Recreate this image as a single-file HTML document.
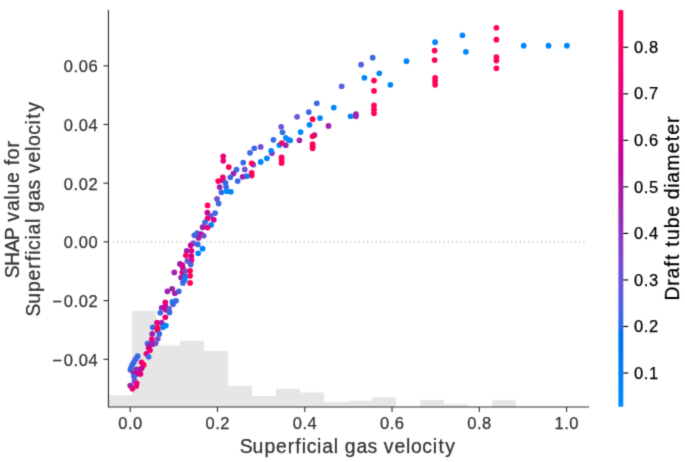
<!DOCTYPE html><html><head><meta charset="utf-8"><title>SHAP dependence plot</title><style>
html,body{margin:0;padding:0;background:#fff;}body{width:685px;height:462px;overflow:hidden;}svg{display:block;}
text{font-family:"Liberation Sans",sans-serif;fill:#333333;stroke:#333333;stroke-width:0.25px;}
</style></head><body>
<svg width="685" height="462" viewBox="0 0 685 462">
<defs><linearGradient id="cb" x1="0" y1="1" x2="0" y2="0">
<stop offset="0.000" stop-color="#008bfb"/>
<stop offset="0.030" stop-color="#0086fa"/>
<stop offset="0.061" stop-color="#0082f8"/>
<stop offset="0.091" stop-color="#007ef6"/>
<stop offset="0.121" stop-color="#0079f3"/>
<stop offset="0.152" stop-color="#0074f0"/>
<stop offset="0.182" stop-color="#006fed"/>
<stop offset="0.212" stop-color="#306ae9"/>
<stop offset="0.242" stop-color="#4664e4"/>
<stop offset="0.273" stop-color="#575fdf"/>
<stop offset="0.303" stop-color="#6459da"/>
<stop offset="0.333" stop-color="#6f52d4"/>
<stop offset="0.364" stop-color="#794cce"/>
<stop offset="0.394" stop-color="#8244c7"/>
<stop offset="0.424" stop-color="#8a3cc0"/>
<stop offset="0.455" stop-color="#9233b9"/>
<stop offset="0.485" stop-color="#9829b1"/>
<stop offset="0.515" stop-color="#a01fab"/>
<stop offset="0.545" stop-color="#aa17a7"/>
<stop offset="0.576" stop-color="#b30aa3"/>
<stop offset="0.606" stop-color="#bc009f"/>
<stop offset="0.636" stop-color="#c5009a"/>
<stop offset="0.667" stop-color="#cd0095"/>
<stop offset="0.697" stop-color="#d40090"/>
<stop offset="0.727" stop-color="#db008a"/>
<stop offset="0.758" stop-color="#e10084"/>
<stop offset="0.788" stop-color="#e7007e"/>
<stop offset="0.818" stop-color="#ec0078"/>
<stop offset="0.848" stop-color="#f10072"/>
<stop offset="0.879" stop-color="#f6006c"/>
<stop offset="0.909" stop-color="#fa0065"/>
<stop offset="0.939" stop-color="#fd005f"/>
<stop offset="0.970" stop-color="#ff0058"/>
<stop offset="1.000" stop-color="#ff0051"/>
<stop offset="1" stop-color="#ff0051"/>
</linearGradient>
<filter id="bl" x="0" y="0" width="685" height="462" filterUnits="userSpaceOnUse" color-interpolation-filters="sRGB"><feConvolveMatrix order="3" kernelMatrix="0.0192 0.1001 0.0192 0.1001 0.5228 0.1001 0.0192 0.1001 0.0192" edgeMode="duplicate"/></filter>
</defs><g filter="url(#bl)"><rect x="0" y="0" width="685" height="462" fill="#ffffff"/>
<path d="M108.15 406.95 V395.20 H132.15 V310.80 H156.15 V345.50 H180.15 V340.70 H204.15 V350.90 H228.15 V386.00 H252.15 V395.90 H276.15 V388.80 H300.15 V392.40 H324.15 V401.90 H348.15 V400.80 H372.15 V397.30 H396.15 V406.95 H420.15 V399.90 H444.15 V404.30 H468.15 V406.95 H492.15 V400.30 H516.15 V406.95 H540.15 V406.95 H564.15 V406.95 H588.15 V406.95 Z" fill="#e6e6e6"/>
<line x1="112.85" y1="241.90" x2="587.20" y2="241.90" stroke="#888888" stroke-width="0.9" stroke-dasharray="0.9 3.34"/>
<circle cx="435.10" cy="42.15" r="2.85" fill="#0086fa"/>
<circle cx="434.60" cy="50.55" r="2.85" fill="#ff0058"/>
<circle cx="434.60" cy="60.05" r="2.85" fill="#ff0058"/>
<circle cx="435.10" cy="77.85" r="2.85" fill="#ff0058"/>
<circle cx="435.10" cy="81.15" r="2.85" fill="#ff0058"/>
<circle cx="435.10" cy="84.85" r="2.85" fill="#ff0058"/>
<circle cx="462.40" cy="35.25" r="2.85" fill="#0086fa"/>
<circle cx="465.90" cy="51.85" r="2.85" fill="#0086fa"/>
<circle cx="496.40" cy="27.75" r="2.85" fill="#ff0058"/>
<circle cx="496.40" cy="39.65" r="2.85" fill="#ff0058"/>
<circle cx="496.40" cy="57.05" r="2.85" fill="#ff0058"/>
<circle cx="496.40" cy="60.55" r="2.85" fill="#ff0058"/>
<circle cx="496.40" cy="68.25" r="2.85" fill="#ff0058"/>
<circle cx="523.70" cy="45.65" r="2.85" fill="#0086fa"/>
<circle cx="548.50" cy="45.65" r="2.85" fill="#0086fa"/>
<circle cx="566.90" cy="45.65" r="2.85" fill="#0086fa"/>
<circle cx="372.70" cy="57.65" r="2.85" fill="#3968e7"/>
<circle cx="361.10" cy="64.65" r="2.85" fill="#575fdf"/>
<circle cx="379.30" cy="73.25" r="2.85" fill="#0086fa"/>
<circle cx="364.40" cy="77.75" r="2.85" fill="#0086fa"/>
<circle cx="374.00" cy="80.55" r="2.85" fill="#ff0058"/>
<circle cx="341.70" cy="86.25" r="2.85" fill="#575fdf"/>
<circle cx="390.40" cy="84.85" r="2.85" fill="#0086fa"/>
<circle cx="374.00" cy="90.95" r="2.85" fill="#ff0058"/>
<circle cx="406.50" cy="61.15" r="2.85" fill="#0086fa"/>
<circle cx="333.80" cy="107.55" r="2.85" fill="#0086fa"/>
<circle cx="350.60" cy="116.25" r="2.85" fill="#0086fa"/>
<circle cx="355.90" cy="114.05" r="2.85" fill="#9d22ac"/>
<circle cx="355.90" cy="116.35" r="2.85" fill="#9d22ac"/>
<circle cx="374.00" cy="105.45" r="2.85" fill="#ff0058"/>
<circle cx="374.00" cy="109.55" r="2.85" fill="#ff0058"/>
<circle cx="374.00" cy="113.35" r="2.85" fill="#ff0058"/>
<circle cx="316.80" cy="103.25" r="2.85" fill="#3968e7"/>
<circle cx="308.80" cy="112.05" r="2.85" fill="#3968e7"/>
<circle cx="297.10" cy="116.85" r="2.85" fill="#6f52d4"/>
<circle cx="312.60" cy="119.15" r="2.85" fill="#ff0058"/>
<circle cx="320.00" cy="118.05" r="2.85" fill="#0086fa"/>
<circle cx="309.50" cy="124.85" r="2.85" fill="#0086fa"/>
<circle cx="328.50" cy="125.95" r="2.85" fill="#9d22ac"/>
<circle cx="300.60" cy="132.05" r="2.85" fill="#0086fa"/>
<circle cx="290.20" cy="140.35" r="2.85" fill="#0086fa"/>
<circle cx="299.40" cy="140.35" r="2.85" fill="#9d22ac"/>
<circle cx="314.50" cy="135.05" r="2.85" fill="#9d22ac"/>
<circle cx="312.60" cy="136.25" r="2.85" fill="#ff0058"/>
<circle cx="312.60" cy="144.15" r="2.85" fill="#ff0058"/>
<circle cx="312.60" cy="146.35" r="2.85" fill="#ff0058"/>
<circle cx="312.60" cy="148.35" r="2.85" fill="#ff0058"/>
<circle cx="281.20" cy="126.85" r="2.85" fill="#6f52d4"/>
<circle cx="282.50" cy="132.25" r="2.85" fill="#3968e7"/>
<circle cx="273.40" cy="139.85" r="2.85" fill="#3968e7"/>
<circle cx="285.80" cy="137.85" r="2.85" fill="#0086fa"/>
<circle cx="288.40" cy="139.85" r="2.85" fill="#0086fa"/>
<circle cx="279.30" cy="145.05" r="2.85" fill="#0086fa"/>
<circle cx="281.90" cy="143.05" r="2.85" fill="#ff0058"/>
<circle cx="285.80" cy="145.25" r="2.85" fill="#9d22ac"/>
<circle cx="260.70" cy="146.95" r="2.85" fill="#6f52d4"/>
<circle cx="254.30" cy="148.25" r="2.85" fill="#3968e7"/>
<circle cx="250.00" cy="152.85" r="2.85" fill="#3968e7"/>
<circle cx="271.90" cy="153.05" r="2.85" fill="#9d22ac"/>
<circle cx="271.10" cy="150.85" r="2.85" fill="#0086fa"/>
<circle cx="281.60" cy="157.35" r="2.85" fill="#ff0058"/>
<circle cx="281.60" cy="159.95" r="2.85" fill="#ff0058"/>
<circle cx="281.60" cy="162.95" r="2.85" fill="#ff0058"/>
<circle cx="266.90" cy="158.25" r="2.85" fill="#0086fa"/>
<circle cx="260.70" cy="161.95" r="2.85" fill="#0086fa"/>
<circle cx="243.20" cy="162.55" r="2.85" fill="#3968e7"/>
<circle cx="253.30" cy="164.75" r="2.85" fill="#6f52d4"/>
<circle cx="251.70" cy="163.25" r="2.85" fill="#ff0058"/>
<circle cx="244.80" cy="169.45" r="2.85" fill="#6f52d4"/>
<circle cx="251.70" cy="172.95" r="2.85" fill="#ff0058"/>
<circle cx="251.70" cy="175.55" r="2.85" fill="#ff0058"/>
<circle cx="246.80" cy="176.15" r="2.85" fill="#0086fa"/>
<circle cx="242.60" cy="176.85" r="2.85" fill="#9d22ac"/>
<circle cx="223.20" cy="156.35" r="2.85" fill="#ec0078"/>
<circle cx="223.20" cy="160.85" r="2.85" fill="#ec0078"/>
<circle cx="228.80" cy="167.05" r="2.85" fill="#ff0058"/>
<circle cx="236.50" cy="169.55" r="2.85" fill="#3968e7"/>
<circle cx="233.50" cy="173.55" r="2.85" fill="#9d22ac"/>
<circle cx="230.30" cy="177.25" r="2.85" fill="#3968e7"/>
<circle cx="237.70" cy="181.05" r="2.85" fill="#3968e7"/>
<circle cx="222.90" cy="177.25" r="2.85" fill="#ec0078"/>
<circle cx="218.20" cy="181.05" r="2.85" fill="#ff0058"/>
<circle cx="222.90" cy="180.45" r="2.85" fill="#ec0078"/>
<circle cx="225.50" cy="182.85" r="2.85" fill="#3968e7"/>
<circle cx="219.60" cy="187.05" r="2.85" fill="#9d22ac"/>
<circle cx="226.10" cy="186.75" r="2.85" fill="#3968e7"/>
<circle cx="221.40" cy="192.35" r="2.85" fill="#3968e7"/>
<circle cx="226.70" cy="191.15" r="2.85" fill="#0086fa"/>
<circle cx="230.90" cy="191.75" r="2.85" fill="#0086fa"/>
<circle cx="217.00" cy="198.95" r="2.85" fill="#6f52d4"/>
<circle cx="218.60" cy="203.55" r="2.85" fill="#3968e7"/>
<circle cx="207.60" cy="205.45" r="2.85" fill="#ff0058"/>
<circle cx="207.30" cy="212.65" r="2.85" fill="#cf0093"/>
<circle cx="215.10" cy="213.05" r="2.85" fill="#3968e7"/>
<circle cx="210.80" cy="215.85" r="2.85" fill="#6f52d4"/>
<circle cx="207.60" cy="218.45" r="2.85" fill="#ec0078"/>
<circle cx="213.80" cy="219.75" r="2.85" fill="#cf0093"/>
<circle cx="205.00" cy="222.35" r="2.85" fill="#3968e7"/>
<circle cx="211.20" cy="224.95" r="2.85" fill="#0086fa"/>
<circle cx="207.60" cy="227.55" r="2.85" fill="#ec0078"/>
<circle cx="202.60" cy="227.15" r="2.85" fill="#9d22ac"/>
<circle cx="197.20" cy="233.15" r="2.85" fill="#3968e7"/>
<circle cx="194.30" cy="235.35" r="2.85" fill="#3968e7"/>
<circle cx="201.10" cy="234.05" r="2.85" fill="#cf0093"/>
<circle cx="203.70" cy="235.75" r="2.85" fill="#6f52d4"/>
<circle cx="198.50" cy="237.95" r="2.85" fill="#9d22ac"/>
<circle cx="193.30" cy="243.15" r="2.85" fill="#6f52d4"/>
<circle cx="197.80" cy="244.45" r="2.85" fill="#3968e7"/>
<circle cx="190.70" cy="245.35" r="2.85" fill="#cf0093"/>
<circle cx="202.60" cy="248.65" r="2.85" fill="#0086fa"/>
<circle cx="191.50" cy="250.85" r="2.85" fill="#ec0078"/>
<circle cx="186.70" cy="250.85" r="2.85" fill="#9d22ac"/>
<circle cx="185.90" cy="255.35" r="2.85" fill="#ff0058"/>
<circle cx="198.20" cy="253.25" r="2.85" fill="#0086fa"/>
<circle cx="191.30" cy="256.15" r="2.85" fill="#cf0093"/>
<circle cx="191.50" cy="260.35" r="2.85" fill="#ec0078"/>
<circle cx="187.40" cy="260.95" r="2.85" fill="#6f52d4"/>
<circle cx="190.70" cy="264.55" r="2.85" fill="#3968e7"/>
<circle cx="179.90" cy="263.95" r="2.85" fill="#9d22ac"/>
<circle cx="182.30" cy="265.15" r="2.85" fill="#cf0093"/>
<circle cx="182.90" cy="268.05" r="2.85" fill="#cf0093"/>
<circle cx="174.30" cy="272.45" r="2.85" fill="#9d22ac"/>
<circle cx="182.30" cy="272.25" r="2.85" fill="#ec0078"/>
<circle cx="185.30" cy="271.05" r="2.85" fill="#6f52d4"/>
<circle cx="190.10" cy="270.85" r="2.85" fill="#ff0058"/>
<circle cx="190.10" cy="275.85" r="2.85" fill="#ff0058"/>
<circle cx="181.10" cy="277.65" r="2.85" fill="#9d22ac"/>
<circle cx="185.30" cy="276.45" r="2.85" fill="#3968e7"/>
<circle cx="184.70" cy="279.95" r="2.85" fill="#0086fa"/>
<circle cx="182.90" cy="282.95" r="2.85" fill="#3968e7"/>
<circle cx="190.10" cy="282.95" r="2.85" fill="#ff0058"/>
<circle cx="172.20" cy="288.75" r="2.85" fill="#9d22ac"/>
<circle cx="167.40" cy="291.35" r="2.85" fill="#9d22ac"/>
<circle cx="178.80" cy="291.35" r="2.85" fill="#3968e7"/>
<circle cx="174.80" cy="293.25" r="2.85" fill="#9d22ac"/>
<circle cx="172.40" cy="301.75" r="2.85" fill="#0086fa"/>
<circle cx="176.00" cy="300.85" r="2.85" fill="#3968e7"/>
<circle cx="173.00" cy="304.15" r="2.85" fill="#3968e7"/>
<circle cx="165.30" cy="302.35" r="2.85" fill="#ec0078"/>
<circle cx="161.70" cy="307.75" r="2.85" fill="#9d22ac"/>
<circle cx="165.30" cy="305.95" r="2.85" fill="#cf0093"/>
<circle cx="165.90" cy="309.85" r="2.85" fill="#cf0093"/>
<circle cx="168.90" cy="308.95" r="2.85" fill="#6f52d4"/>
<circle cx="169.50" cy="312.45" r="2.85" fill="#3968e7"/>
<circle cx="160.30" cy="312.75" r="2.85" fill="#3968e7"/>
<circle cx="165.30" cy="317.25" r="2.85" fill="#ec0078"/>
<circle cx="157.00" cy="322.65" r="2.85" fill="#ec0078"/>
<circle cx="161.70" cy="322.65" r="2.85" fill="#9d22ac"/>
<circle cx="165.90" cy="325.55" r="2.85" fill="#0086fa"/>
<circle cx="162.90" cy="327.35" r="2.85" fill="#0086fa"/>
<circle cx="152.80" cy="327.35" r="2.85" fill="#3968e7"/>
<circle cx="157.60" cy="327.95" r="2.85" fill="#ff0058"/>
<circle cx="157.60" cy="330.15" r="2.85" fill="#ff0058"/>
<circle cx="152.20" cy="333.95" r="2.85" fill="#9d22ac"/>
<circle cx="159.30" cy="333.95" r="2.85" fill="#3968e7"/>
<circle cx="157.80" cy="338.85" r="2.85" fill="#6f52d4"/>
<circle cx="151.80" cy="339.45" r="2.85" fill="#ec0078"/>
<circle cx="155.60" cy="343.25" r="2.85" fill="#6f52d4"/>
<circle cx="147.50" cy="343.55" r="2.85" fill="#3968e7"/>
<circle cx="149.70" cy="345.35" r="2.85" fill="#9d22ac"/>
<circle cx="152.40" cy="344.25" r="2.85" fill="#9d22ac"/>
<circle cx="148.60" cy="348.05" r="2.85" fill="#cf0093"/>
<circle cx="150.00" cy="350.25" r="2.85" fill="#ec0078"/>
<circle cx="146.40" cy="353.75" r="2.85" fill="#ec0078"/>
<circle cx="148.60" cy="356.75" r="2.85" fill="#3968e7"/>
<circle cx="137.70" cy="356.15" r="2.85" fill="#3968e7"/>
<circle cx="135.60" cy="359.05" r="2.85" fill="#3968e7"/>
<circle cx="134.00" cy="361.75" r="2.85" fill="#3968e7"/>
<circle cx="132.40" cy="364.45" r="2.85" fill="#3968e7"/>
<circle cx="131.10" cy="367.65" r="2.85" fill="#3968e7"/>
<circle cx="130.40" cy="369.85" r="2.85" fill="#3968e7"/>
<circle cx="141.60" cy="362.25" r="2.85" fill="#ec0078"/>
<circle cx="143.70" cy="364.95" r="2.85" fill="#ff0058"/>
<circle cx="141.60" cy="368.25" r="2.85" fill="#cf0093"/>
<circle cx="139.90" cy="373.05" r="2.85" fill="#cf0093"/>
<circle cx="136.70" cy="369.25" r="2.85" fill="#9d22ac"/>
<circle cx="137.20" cy="371.95" r="2.85" fill="#9d22ac"/>
<circle cx="133.50" cy="373.05" r="2.85" fill="#9d22ac"/>
<circle cx="140.50" cy="374.05" r="2.85" fill="#ec0078"/>
<circle cx="136.10" cy="374.05" r="2.85" fill="#cf0093"/>
<circle cx="134.00" cy="376.85" r="2.85" fill="#3968e7"/>
<circle cx="134.50" cy="381.15" r="2.85" fill="#6f52d4"/>
<circle cx="136.70" cy="383.35" r="2.85" fill="#ec0078"/>
<circle cx="136.20" cy="386.05" r="2.85" fill="#ec0078"/>
<circle cx="130.20" cy="385.55" r="2.85" fill="#9d22ac"/>
<circle cx="132.40" cy="388.75" r="2.85" fill="#ec0078"/>
<path d="M108.45 9.70 V406.95 H589.20" fill="none" stroke="#333333" stroke-width="1.15" stroke-linejoin="miter" stroke-linecap="butt"/>
<line x1="103.50" y1="65.80" x2="108.45" y2="65.80" stroke="#333333" stroke-width="1.15"/>
<text transform="translate(98.00 72.14) scale(1.0000 1)" x="-34.17 -24.48 -19.38 -9.52" y="0" font-size="16.50">0.06</text>
<line x1="103.50" y1="124.50" x2="108.45" y2="124.50" stroke="#333333" stroke-width="1.15"/>
<text transform="translate(98.00 130.84) scale(1.0000 1)" x="-34.17 -24.48 -19.38 -9.52" y="0" font-size="16.50">0.04</text>
<line x1="103.50" y1="183.20" x2="108.45" y2="183.20" stroke="#333333" stroke-width="1.15"/>
<text transform="translate(98.00 189.54) scale(1.0000 1)" x="-34.17 -24.48 -19.38 -9.52" y="0" font-size="16.50">0.02</text>
<line x1="103.50" y1="241.90" x2="108.45" y2="241.90" stroke="#333333" stroke-width="1.15"/>
<text transform="translate(98.00 248.24) scale(1.0000 1)" x="-34.17 -24.48 -19.38 -9.52" y="0" font-size="16.50">0.00</text>
<line x1="103.50" y1="300.60" x2="108.45" y2="300.60" stroke="#333333" stroke-width="1.15"/>
<text transform="translate(98.00 306.94) scale(1.0000 1)" x="-45.82 -34.17 -24.48 -19.38 -9.52" y="0" font-size="16.50">−0.02</text>
<line x1="103.50" y1="359.30" x2="108.45" y2="359.30" stroke="#333333" stroke-width="1.15"/>
<text transform="translate(98.00 365.64) scale(1.0000 1)" x="-45.82 -34.17 -24.48 -19.38 -9.52" y="0" font-size="16.50">−0.04</text>
<line x1="130.25" y1="406.95" x2="130.25" y2="411.90" stroke="#333333" stroke-width="1.15"/>
<text transform="translate(130.25 429.20) scale(1.0000 1)" x="-11.98 -2.29 2.81" y="0" font-size="16.50">0.0</text>
<line x1="217.51" y1="406.95" x2="217.51" y2="411.90" stroke="#333333" stroke-width="1.15"/>
<text transform="translate(217.51 429.20) scale(1.0000 1)" x="-11.98 -2.29 2.81" y="0" font-size="16.50">0.2</text>
<line x1="304.77" y1="406.95" x2="304.77" y2="411.90" stroke="#333333" stroke-width="1.15"/>
<text transform="translate(304.77 429.20) scale(1.0000 1)" x="-11.98 -2.29 2.81" y="0" font-size="16.50">0.4</text>
<line x1="392.03" y1="406.95" x2="392.03" y2="411.90" stroke="#333333" stroke-width="1.15"/>
<text transform="translate(392.03 429.20) scale(1.0000 1)" x="-11.98 -2.29 2.81" y="0" font-size="16.50">0.6</text>
<line x1="479.29" y1="406.95" x2="479.29" y2="411.90" stroke="#333333" stroke-width="1.15"/>
<text transform="translate(479.29 429.20) scale(1.0000 1)" x="-11.98 -2.29 2.81" y="0" font-size="16.50">0.8</text>
<line x1="566.55" y1="406.95" x2="566.55" y2="411.90" stroke="#333333" stroke-width="1.15"/>
<text transform="translate(566.55 429.20) scale(1.0000 1)" x="-11.98 -2.29 2.81" y="0" font-size="16.50">1.0</text>
<text transform="translate(348.00 452.70) scale(1.0000 1)" x="-108.30 -95.43 -83.64 -72.02 -60.32 -52.69 -46.29 -41.30 -30.91 -25.87 -14.35 -9.36 -3.20 8.39 19.48 29.43 35.73 46.40 57.94 62.97 74.31 84.70 90.39 97.37" y="0" font-size="19.40">Superficial&#160;gas&#160;velocity</text>
<text transform="translate(19.00 209.10) rotate(-90) scale(1.0000 1)" x="-69.21 -56.92 -43.10 -31.19 -18.89 -12.63 -2.03 9.45 14.65 26.20 37.54 43.74 49.95 61.58" y="0" font-size="19.40">SHAP&#160;value&#160;for</text>
<text transform="translate(40.20 208.75) rotate(-90) scale(1.0000 1)" x="-107.82 -95.01 -83.28 -71.71 -60.05 -52.46 -46.09 -41.13 -30.78 -25.78 -14.30 -9.33 -3.21 8.33 19.36 29.28 35.54 46.16 57.66 62.65 73.94 84.30 89.95 96.90" y="0" font-size="19.40">Superficial&#160;gas&#160;velocity</text>
<rect x="618.40" y="10.10" width="4.90" height="396.60" fill="url(#cb)"/>
<line x1="623.30" y1="373.00" x2="628.25" y2="373.00" stroke="#000000" stroke-width="1.15"/>
<text transform="translate(633.75 378.64) scale(1.0000 1)" x="0.34 10.03 15.13" y="0" font-size="16.50" style="fill:#000000;stroke:#000000">0.1</text>
<line x1="623.30" y1="326.47" x2="628.25" y2="326.47" stroke="#000000" stroke-width="1.15"/>
<text transform="translate(633.75 332.11) scale(1.0000 1)" x="0.34 10.03 15.13" y="0" font-size="16.50" style="fill:#000000;stroke:#000000">0.2</text>
<line x1="623.30" y1="279.94" x2="628.25" y2="279.94" stroke="#000000" stroke-width="1.15"/>
<text transform="translate(633.75 285.58) scale(1.0000 1)" x="0.34 10.03 15.13" y="0" font-size="16.50" style="fill:#000000;stroke:#000000">0.3</text>
<line x1="623.30" y1="233.41" x2="628.25" y2="233.41" stroke="#000000" stroke-width="1.15"/>
<text transform="translate(633.75 239.05) scale(1.0000 1)" x="0.34 10.03 15.13" y="0" font-size="16.50" style="fill:#000000;stroke:#000000">0.4</text>
<line x1="623.30" y1="186.88" x2="628.25" y2="186.88" stroke="#000000" stroke-width="1.15"/>
<text transform="translate(633.75 192.52) scale(1.0000 1)" x="0.34 10.03 15.13" y="0" font-size="16.50" style="fill:#000000;stroke:#000000">0.5</text>
<line x1="623.30" y1="140.35" x2="628.25" y2="140.35" stroke="#000000" stroke-width="1.15"/>
<text transform="translate(633.75 145.99) scale(1.0000 1)" x="0.34 10.03 15.13" y="0" font-size="16.50" style="fill:#000000;stroke:#000000">0.6</text>
<line x1="623.30" y1="93.82" x2="628.25" y2="93.82" stroke="#000000" stroke-width="1.15"/>
<text transform="translate(633.75 99.46) scale(1.0000 1)" x="0.34 10.03 15.13" y="0" font-size="16.50" style="fill:#000000;stroke:#000000">0.7</text>
<line x1="623.30" y1="47.29" x2="628.25" y2="47.29" stroke="#000000" stroke-width="1.15"/>
<text transform="translate(633.75 52.93) scale(1.0000 1)" x="0.34 10.03 15.13" y="0" font-size="16.50" style="fill:#000000;stroke:#000000">0.8</text>
<text transform="translate(679.00 208.30) rotate(-90) scale(1.0000 1)" x="-92.18 -77.48 -70.18 -58.56 -51.68 -45.12 -38.56 -31.77 -20.04 -8.49 2.84 8.95 20.62 25.62 37.60 54.98 67.00 73.61 85.26" y="0" font-size="19.40" style="fill:#000000;stroke:#000000">Draft&#160;tube&#160;diameter</text>
</g></svg></body></html>
